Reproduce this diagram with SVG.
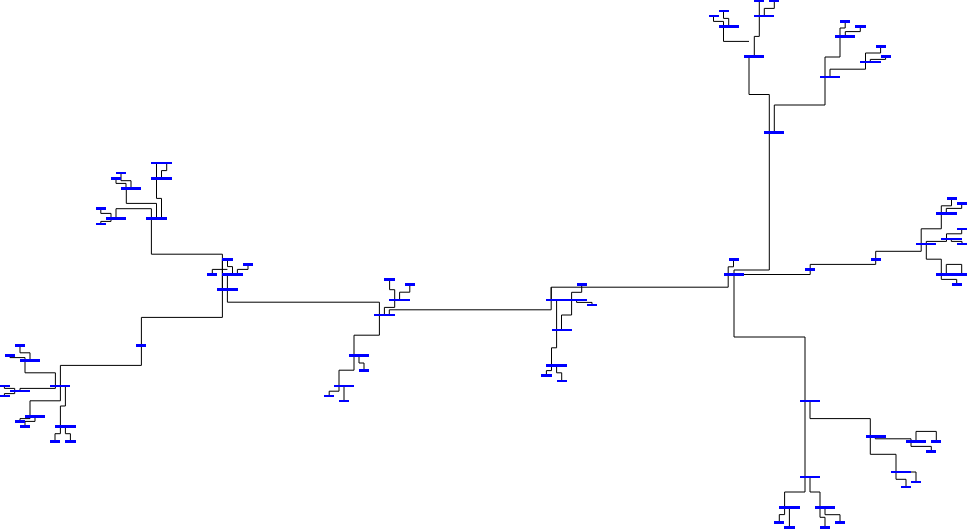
<svg xmlns="http://www.w3.org/2000/svg" width="967" height="529" viewBox="0 0 967 529">
<style>
.c{fill:none;stroke:#000;stroke-width:1}
.b{fill:#00f}
</style>
<rect width="967" height="529" fill="#fff"/>
<g id="connectors" class="c">
<path d="M734 270V337H805V477.5V492H784.6V507.5V514.6H779.3V522.5"/>
<path d="M734 270H769.3V94.5H749V56.5"/>
<path d="M774.3 132.5V105H825V57H840V28H845.2V21.5"/>
<path d="M830 77V69.2H865.5V53H880.6V46.5"/>
<path d="M870.3 62V59.4H885.6V56.5"/>
<path d="M845.3 36.5V31.6H860.3V26.5"/>
<path d="M754.3 56.5V36.4H759.3V0"/>
<path d="M749 41.4H723.5V26.5"/>
<path d="M723.5 26.5V21.4H713.5V16"/>
<path d="M728.7 26.5V18.4H723.5V11"/>
<path d="M764.3 16V8.4H774.3V1"/>
<path d="M161.5 218.5V198.4H156.5V163"/>
<path d="M161.5 178.5V170.6H166.7V163"/>
<path d="M156.5 218.5V203.4H126.3V188.5"/>
<path d="M734 274.5H810.2V264.4H875.7V251.3H921.2V244V228.8H941.3V205.8H951.5V198.5"/>
<path d="M222.4 259.5V317.4H141.4V365.4H60.4V400.8H30V416.5"/>
<path d="M222.4 289.5V254.2H151.4V208.7H116V218.5"/>
<path d="M131 188.5V180.7H121V173"/>
<path d="M126 188.5V183.4H116V178.5"/>
<path d="M111 218.5V213.4H100.8V208.5"/>
<path d="M111 218.5V221.4H100.8V224"/>
<path d="M232.5 274.5V266.6H227.5V259.5"/>
<path d="M227.4 274.5V302.2H379.4V335.2H354V370.2H339V386"/>
<path d="M212.3 274.5V269.4H227.4"/>
<path d="M237.4 274.5V269.4H248V264.5"/>
<path d="M65.4 386V406H60.4V426.5"/>
<path d="M55.4 386V372.8H25V360.5"/>
<path d="M55.4 386V388.4H20V391"/>
<path d="M30 360.5V352.8H20V345.5"/>
<path d="M25 360.5V357.6H10V355.5"/>
<path d="M14.7 391V388.4H4.4V386"/>
<path d="M14.7 391V393.6H4.4V396"/>
<path d="M30 416.5V418.6H20V421.5"/>
<path d="M35 416.5V421.4H25V426.5"/>
<path d="M60.4 426.5V433.7H55V441.5"/>
<path d="M65.4 426.5V433.7H70.4V441.5"/>
<path d="M384.4 315V307.4H394.7V289.7H389.6V279.5"/>
<path d="M399.6 300V292.2H409.8V284.5"/>
<path d="M389.3 315V309.8H551.2V287.2H728.2V266.8H733.5V259.5"/>
<path d="M551.2 300V287.2"/>
<path d="M359 355.5V363H364V370.5"/>
<path d="M344 386V401"/>
<path d="M339 386V391.2H329.2V396"/>
<path d="M581.7 284.5V292.3H571.6V315H561.5V330"/>
<path d="M576.6 300V302.4H592V305"/>
<path d="M556.6 300V347.8H551.5V365.5"/>
<path d="M551.5 365.5V370.6H546.4V375.5"/>
<path d="M556.6 365.5V372.8H561.7V381"/>
<path d="M946.3 213.5V208.4H961.7V203.5"/>
<path d="M926.3 244V241.4H946.5V233.8H961.7V229"/>
<path d="M951.3 239V241.4H962V244"/>
<path d="M926.3 244V259.2H941.3V279.4H956.7V284.5"/>
<path d="M946.3 274.5V264.4H961.7V274.5"/>
<path d="M810 401V418.6H870.3V454.3H896V479.3H906V487"/>
<path d="M906 472H916V482"/>
<path d="M875.3 436.5V438.8H911V446.4H931.3V451.5"/>
<path d="M916 441.5V431.4H936.3V441.5"/>
<path d="M810 477V492H820V517.3H825V527.5"/>
<path d="M789.4 507.5V527.5"/>
<path d="M825 507.5V514.7H840V522.5"/>
</g>
<g id="buses" class="b">
<g id="n1"><rect x="764" y="131" width="20" height="3"/></g>
<g id="n2"><rect x="744" y="55" width="20" height="3"/></g>
<g id="n3"><rect x="719" y="25" width="20" height="3"/></g>
<g id="n4"><rect x="709" y="15" width="10" height="2"/></g>
<g id="n5"><rect x="719" y="10" width="10" height="2"/></g>
<g id="n6"><rect x="754" y="15" width="20" height="2"/></g>
<g id="n7"><rect x="754" y="0" width="10" height="2"/></g>
<g id="n8"><rect x="769" y="0" width="10" height="2"/></g>
<g id="n9"><rect x="820" y="76" width="20" height="2"/></g>
<g id="n10"><rect x="835" y="35" width="20" height="3"/></g>
<g id="n11"><rect x="840" y="20" width="10" height="3"/></g>
<g id="n12"><rect x="855" y="25" width="11" height="3"/></g>
<g id="n13"><rect x="860" y="61" width="21" height="2"/></g>
<g id="n14"><rect x="876" y="45" width="10" height="3"/></g>
<g id="n15"><rect x="881" y="55" width="10" height="3"/></g>
<g id="n16"><rect x="151" y="162" width="21" height="2"/></g>
<g id="n17"><rect x="151" y="177" width="21" height="3"/></g>
<g id="n18"><rect x="146" y="217" width="21" height="3"/></g>
<g id="n19"><rect x="121" y="187" width="20" height="3"/></g>
<g id="n20"><rect x="116" y="172" width="10" height="2"/></g>
<g id="n21"><rect x="111" y="177" width="10" height="3"/></g>
<g id="n22"><rect x="106" y="217" width="20" height="3"/></g>
<g id="n23"><rect x="96" y="207" width="10" height="3"/></g>
<g id="n24"><rect x="96" y="223" width="10" height="2"/></g>
<g id="n25"><rect x="222" y="258" width="11" height="3"/></g>
<g id="n26"><rect x="243" y="263" width="10" height="3"/></g>
<g id="n27"><rect x="207" y="273" width="10" height="3"/></g>
<g id="n28"><rect x="222" y="273" width="21" height="3"/></g>
<g id="n29"><rect x="217" y="288" width="21" height="3"/></g>
<g id="n30"><rect x="136" y="344" width="10" height="3"/></g>
<g id="n31"><rect x="20" y="359" width="20" height="3"/></g>
<g id="n32"><rect x="15" y="344" width="10" height="3"/></g>
<g id="n33"><rect x="5" y="354" width="10" height="3"/></g>
<g id="n34"><rect x="50" y="385" width="20" height="2"/></g>
<g id="n35"><rect x="10" y="390" width="20" height="2"/></g>
<g id="n36"><rect x="0" y="385" width="10" height="2"/></g>
<g id="n37"><rect x="0" y="395" width="10" height="2"/></g>
<g id="n38"><rect x="25" y="415" width="20" height="3"/></g>
<g id="n39"><rect x="15" y="420" width="10" height="3"/></g>
<g id="n40"><rect x="20" y="425" width="10" height="3"/></g>
<g id="n41"><rect x="55" y="425" width="21" height="3"/></g>
<g id="n42"><rect x="50" y="440" width="10" height="3"/></g>
<g id="n43"><rect x="65" y="440" width="11" height="3"/></g>
<g id="n44"><rect x="374" y="314" width="21" height="2"/></g>
<g id="n45"><rect x="389" y="299" width="21" height="2"/></g>
<g id="n46"><rect x="384" y="278" width="11" height="3"/></g>
<g id="n47"><rect x="405" y="283" width="10" height="3"/></g>
<g id="n48"><rect x="349" y="354" width="20" height="3"/></g>
<g id="n49"><rect x="359" y="369" width="10" height="3"/></g>
<g id="n50"><rect x="334" y="385" width="20" height="2"/></g>
<g id="n51"><rect x="324" y="395" width="10" height="2"/></g>
<g id="n52"><rect x="339" y="400" width="10" height="2"/></g>
<g id="n53"><rect x="546" y="299" width="41" height="2"/></g>
<g id="n54"><rect x="577" y="283" width="10" height="3"/></g>
<g id="n55"><rect x="587" y="304" width="10" height="2"/></g>
<g id="n56"><rect x="552" y="329" width="20" height="2"/></g>
<g id="n57"><rect x="546" y="364" width="21" height="3"/></g>
<g id="n58"><rect x="541" y="374" width="11" height="3"/></g>
<g id="n59"><rect x="557" y="380" width="10" height="2"/></g>
<g id="n60"><rect x="724" y="273" width="20" height="3"/></g>
<g id="n61"><rect x="729" y="258" width="10" height="3"/></g>
<g id="n62"><rect x="805" y="268" width="10" height="3"/></g>
<g id="n63"><rect x="871" y="258" width="10" height="3"/></g>
<g id="n64"><rect x="916" y="243" width="20" height="2"/></g>
<g id="n65"><rect x="936" y="212" width="21" height="3"/></g>
<g id="n66"><rect x="947" y="197" width="10" height="3"/></g>
<g id="n67"><rect x="957" y="202" width="10" height="3"/></g>
<g id="n68"><rect x="941" y="238" width="21" height="2"/></g>
<g id="n69"><rect x="957" y="228" width="10" height="2"/></g>
<g id="n70"><rect x="957" y="243" width="10" height="2"/></g>
<g id="n71"><rect x="936" y="273" width="31" height="3"/></g>
<g id="n72"><rect x="952" y="283" width="10" height="3"/></g>
<g id="n73"><rect x="800" y="400" width="20" height="2"/></g>
<g id="n74"><rect x="866" y="435" width="20" height="3"/></g>
<g id="n75"><rect x="906" y="440" width="20" height="3"/></g>
<g id="n76"><rect x="931" y="440" width="10" height="3"/></g>
<g id="n77"><rect x="926" y="450" width="10" height="3"/></g>
<g id="n78"><rect x="891" y="471" width="20" height="2"/></g>
<g id="n79"><rect x="911" y="481" width="10" height="2"/></g>
<g id="n80"><rect x="901" y="486" width="10" height="2"/></g>
<g id="n81"><rect x="800" y="476" width="20" height="2"/></g>
<g id="n82"><rect x="779" y="506" width="21" height="3"/></g>
<g id="n83"><rect x="815" y="506" width="20" height="3"/></g>
<g id="n84"><rect x="774" y="521" width="10" height="3"/></g>
<g id="n85"><rect x="784" y="526" width="11" height="3"/></g>
<g id="n86"><rect x="820" y="526" width="10" height="3"/></g>
<g id="n87"><rect x="835" y="521" width="10" height="3"/></g>
</g>
</svg>
